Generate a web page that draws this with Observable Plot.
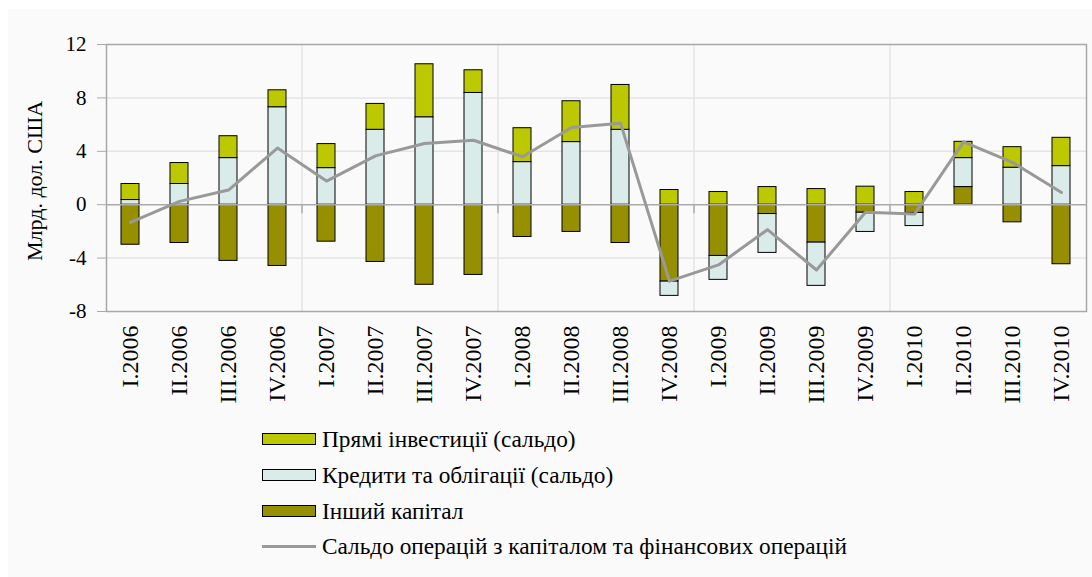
<!DOCTYPE html>
<html>
<head>
<meta charset="utf-8">
<script src="https://cdn.jsdelivr.net/npm/d3@7"></script>
<script src="https://cdn.jsdelivr.net/npm/@observablehq/plot@0.6"></script>
<style>
  html, body { margin: 0; padding: 0; background: #ffffff; font-family: 'Liberation Serif', serif; }
  #bg { position: absolute; left: 8px; top: 9px; width: 1084px; height: 568px; background: #fafafa; }
  #chart { position: absolute; left: 0; top: 0; }
  #legend { position: absolute; left: 0; top: 0; width: 1092px; font-size: 23.3px; color: #000; }
  .row { position: absolute; left: 262px; height: 26px; display: flex; align-items: center; white-space: nowrap; }
  .sw { width: 52px; height: 10px; border: 1px solid #000; margin-right: 6px; box-sizing: content-box; flex: none; }
  .ln { width: 54px; height: 3px; background: #999999; margin-right: 6px; flex: none; }
</style>
</head>
<body>
<div id="bg"></div>
<div id="chart"></div>
<div id="legend"></div>
<script>
const quarters = ["I.2006","II.2006","III.2006","IV.2006","I.2007","II.2007","III.2007","IV.2007",
  "I.2008","II.2008","III.2008","IV.2008","I.2009","II.2009","III.2009","IV.2009",
  "I.2010","II.2010","III.2010","IV.2010"];
const seriesNames = ["Прямі інвестиції (сальдо)", "Кредити та облігації (сальдо)", "Інший капітал"];
const lineName = "Сальдо операцій з капіталом та фінансових операцій";
const fdi = [1.20, 1.57, 1.64, 1.27, 1.80, 1.94, 3.97, 1.70, 2.54, 3.06, 3.36, 1.10, 0.95, 1.32, 1.17, 1.35, 0.95, 1.22, 1.54, 2.12];
const loans = [0.35, 1.55, 3.49, 7.30, 2.74, 5.61, 6.55, 8.37, 3.19, 4.69, 5.61, -1.07, -1.79, -2.91, -3.24, -1.44, -0.98, 2.17, 2.77, 2.89];
const other = [-3.00, -2.87, -4.21, -4.59, -2.77, -4.29, -6.00, -5.26, -2.42, -2.04, -2.87, -5.76, -3.84, -0.70, -2.84, -0.60, -0.62, 1.32, -1.32, -4.46];
const balance = [-1.32, 0.25, 1.10, 4.24, 1.77, 3.66, 4.59, 4.83, 3.59, 5.78, 6.11, -5.73, -4.51, -1.87, -4.89, -0.57, -0.70, 4.71, 3.17, 0.92];
const yTicks = [-8, -4, 0, 4, 8, 12];
const yLabel = "Млрд. дол. США";
const yearStarts = ["I.2007", "I.2008", "I.2009", "I.2010"];
const colors = ["#bcc800", "#daecea", "#968f00"];

const stackOrder = [seriesNames[2], seriesNames[1], seriesNames[0]];
const bars = [];
quarters.forEach((q, i) => {
  bars.push({q, s: seriesNames[2], v: other[i]});
  bars.push({q, s: seriesNames[1], v: loans[i]});
  bars.push({q, s: seriesNames[0], v: fdi[i]});
});
const lineData = quarters.map((q, i) => ({q, v: balance[i]}));

const W = 1092, mL = 106, mR = 6, mT = 44, H = 420, mB = 109;
const step = (W - mL - mR) / quarters.length;
const font = "'Liberation Serif', serif";

const plot = Plot.plot({
  width: W, height: H,
  marginLeft: mL, marginRight: mR, marginTop: mT, marginBottom: mB,
  style: { background: "transparent", fontFamily: font, fontSize: "20px", color: "#000", overflow: "visible" },
  x: { domain: quarters, type: "band", paddingInner: 0.63, paddingOuter: 0.315, label: null },
  y: { domain: [-8, 12], label: null },
  color: { domain: seriesNames, range: colors },
  marks: [
    Plot.ruleY([-4, 4, 8], { stroke: "#e4e4e4", strokeWidth: 1.5 }),
    Plot.ruleX(yearStarts, { x: d => d, dx: -step / 2, stroke: "#e4e4e4", strokeWidth: 1.5 }),
    Plot.barY(bars, { x: "q", y: "v", fill: "s", order: stackOrder, stroke: "#000", strokeWidth: 1 }),
    Plot.ruleY([0], { stroke: "#aaaaaa", strokeWidth: 1.5 }),
    Plot.ruleX(yearStarts, { x: d => d, dx: -step / 2, y1: 0, y2: 0, insetBottom: -9, stroke: "#aaaaaa", strokeWidth: 1.5 }),
    Plot.line(lineData, { x: "q", y: "v", stroke: "#999999", strokeWidth: 3 }),
    Plot.frame({ stroke: "#a8a8a8", strokeWidth: 1.5 }),
    Plot.axisY({ ticks: yTicks, tickFormat: d => String(d), tickSize: 9, tickPadding: 11, stroke: "#a8a8a8", fill: "#000", fontSize: 21, fontFamily: font, label: null }),
    Plot.axisX({ tickSize: 0, tickPadding: 14, tickRotate: -90, fill: "#000", fontSize: 24, fontFamily: font, label: null }),
    Plot.text([yLabel], { frameAnchor: "left", textAnchor: "middle", rotate: -90, dx: -72, dy: 3, fontSize: 22, fontFamily: font, fill: "#000" })
  ]
});
document.getElementById("chart").appendChild(plot);

const legend = document.getElementById("legend");
const rowsY = [439, 475, 511, 546];
seriesNames.forEach((name, i) => {
  const r = document.createElement("div");
  r.className = "row";
  r.style.top = (rowsY[i] - 13) + "px";
  r.innerHTML = `<div class="sw" style="background:${colors[i]}"></div><span style="font-family:'Liberation Serif', serif">${name}</span>`;
  legend.appendChild(r);
});
const r4 = document.createElement("div");
r4.className = "row";
r4.style.top = (rowsY[3] - 13) + "px";
r4.innerHTML = `<div class="ln"></div><span style="font-family:'Liberation Serif', serif">${lineName}</span>`;
legend.appendChild(r4);
</script>
</body>
</html>
